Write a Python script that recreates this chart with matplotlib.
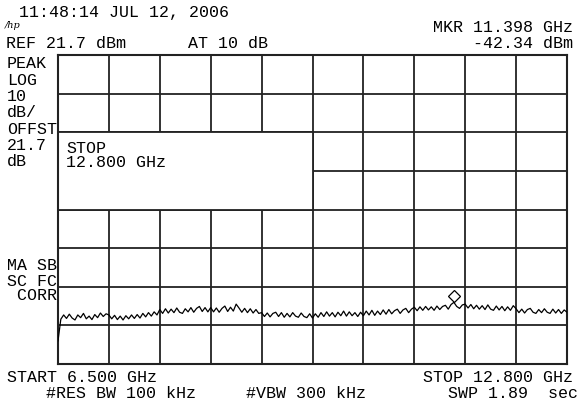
import matplotlib
matplotlib.use("Agg")
import matplotlib.pyplot as plt
import matplotlib.transforms as mtransforms
import numpy as np

# barrido del analizador
f_start = 6.5      # GHz
f_stop = 12.8      # GHz
ref_level = 21.7   # dBm
db_div = 10
n_div_x = 10
n_div_y = 8

mkr_freq = 11.398
mkr_level = -42.34

# traza leida (dBm), 181 puntos equiespaciados, 18 por division
traza = [
    # div 0
    -52.3, -46.7, -45.6, -46.5, -45.4, -46.4, -46.9, -45.6, -46.3, -45.2, -46.6, -45.9, -46.8, -45.5, -46.3, -45.1, -46.0, -45.3,
    # div 1
    -45.6, -46.6, -45.7, -46.8, -45.9, -46.9, -45.8, -46.6, -45.6, -46.5, -45.5, -46.4, -45.2, -46.1, -45.0, -45.9, -44.8, -45.6,
    # div 2
    -44.2, -45.2, -44.0, -45.1, -44.1, -45.0, -43.8, -44.9, -45.2, -44.0, -44.8, -43.7, -44.9, -43.9, -43.4, -44.7, -43.7, -44.8,
    # div 3
    -43.7, -44.8, -43.8, -44.9, -43.9, -43.3, -44.7, -43.6, -44.6, -42.8, -43.8, -44.9, -43.9, -45.0, -44.0, -45.1, -44.2, -45.2,
    # div 4
    -45.0, -46.0, -45.1, -46.1, -45.2, -44.9, -46.0, -45.0, -46.2, -45.2, -46.1, -45.0, -45.9, -46.2, -45.1, -46.0, -46.3, -45.3,
    # div 5
    -46.4, -45.3, -46.2, -45.0, -46.0, -44.8, -45.9, -45.0, -46.1, -44.9, -45.8, -44.6, -45.9, -44.8, -45.8, -45.0, -46.0, -44.9,
    # div 6
    -45.8, -44.6, -45.6, -44.4, -45.7, -44.6, -45.5, -44.3, -45.4, -44.2, -45.3, -44.5, -44.1, -45.2, -44.3, -43.9, -45.0, -44.1,
    # div 7 (pico del marcador)
    -43.6, -44.5, -43.5, -44.4, -43.4, -44.3, -43.5, -44.4, -43.3, -44.2, -43.4, -43.1, -44.1, -42.9, -42.34, -43.4, -43.9, -43.0,
    # div 8
    -42.8, -43.8, -42.9, -44.0, -43.1, -44.1, -43.2, -44.2, -43.0, -44.1, -44.4, -43.3, -44.3, -43.4, -44.5, -43.5, -44.4, -43.2,
    # div 9
    -44.0, -45.0, -44.1, -45.1, -44.2, -43.9, -44.9, -45.2, -44.2, -45.0, -44.0, -44.9, -45.2, -44.1, -45.1, -44.2, -45.2, -44.3, -44.9,
]

W, H = 583, 404
fig = plt.figure(figsize=(W / 100, H / 100), dpi=100)

# area de la grilla en pixeles
gx0, gy0, gx1, gy1 = 58, 55, 567, 364
ax = fig.add_axes([gx0 / W, 1 - gy1 / H, (gx1 - gx0) / W, (gy1 - gy0) / H])

y_bot = ref_level - db_div * n_div_y
ax.set_xlim(f_start, f_stop)
ax.set_ylim(y_bot, ref_level)

col = '#222222'
dx = (f_stop - f_start) / n_div_x
for i in range(1, n_div_x):
    ax.axvline(f_start + i * dx, color=col, lw=1.3, zorder=1)
for j in range(1, n_div_y):
    ax.axhline(ref_level - j * db_div, color=col, lw=1.3, zorder=1)
for s in ax.spines.values():
    s.set_color(col)
    s.set_linewidth(1.5)
ax.set_xticks([])
ax.set_yticks([])

# cuadro de STOP sobre la grilla
caja = plt.Rectangle((f_start, ref_level - 4 * db_div), 5 * dx, 2 * db_div,
                     facecolor='white', edgecolor=col, lw=1.3, zorder=2)
ax.add_patch(caja)
mono = 'Liberation Mono'
ax.text(f_start + 0.1, ref_level - 2 * db_div - 2.2, 'STOP\n12.800 GHz', fontsize=12,
        family=mono, va='top', ha='left', linespacing=0.95, zorder=3)

frec = np.linspace(f_start, f_stop, len(traza))
ax.plot(frec, traza, color='black', lw=0.9, zorder=4)

# marcador (rombo encima del punto)
off = mtransforms.offset_copy(ax.transData, fig=fig, x=0, y=6, units='dots')
ax.plot([mkr_freq], [mkr_level], marker='D', ms=6, mfc='white', mec='black',
        mew=0.9, transform=off, zorder=5)


def txt(x, y, s, ha='left'):
    fig.text(x / W, 1 - y / H, s, family=mono, fontsize=12, va='center', ha=ha)


txt(19, 12, '11:48:14 JUL 12, 2006')
fig.text(5 / W, 1 - 26 / H, '/hp', fontsize=7, style='italic', family='DejaVu Serif',
         va='center', ha='left')
txt(6, 43, 'REF 21.7 dBm')
txt(188, 43, 'AT 10 dB')
txt(573, 27, 'MKR 11.398 GHz', ha='right')
txt(573, 43, '-42.34 dBm', ha='right')

izq = ['PEAK', 'LOG', '10', 'dB/', 'OFFST', '21.7', 'dB']
for k, s in enumerate(izq):
    txt(7, 64 + k * 16.3, s)
txt(7, 266, 'MA SB')
txt(7, 281, 'SC FC')
txt(7, 296, ' CORR')

txt(7, 378, 'START 6.500 GHz')
txt(573, 378, 'STOP 12.800 GHz', ha='right')
txt(46, 393, '#RES BW 100 kHz')
txt(246, 393, '#VBW 300 kHz')
txt(448, 393, 'SWP 1.89  sec')

fig.savefig('out.png', dpi=100, facecolor='white')
